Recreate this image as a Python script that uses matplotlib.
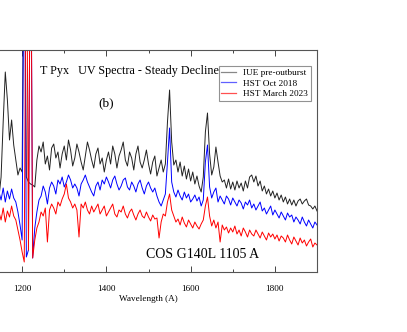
import numpy as np
import matplotlib.pyplot as plt

# wavelength grid (A), 5 A steps
wave = np.arange(1145, 1901, 5)

# flux, arbitrary units
iue = [75, 95, 150, 200, 172, 132, 152, 127, 112, 97,
       104, 100, 400, 95, 90, 88, 87, 85, 112, 126,
       120, 130, 108, 116, 102, 124, 128, 114, 120, 104,
       118, 126, 112, 132, 122, 106, 114, 128, 120, 110,
       102, 116, 130, 122, 112, 104, 118, 124, 108, 114,
       100, 112, 120, 108, 126, 118, 104, 116, 122, 130,
       112, 106, 120, 114, 102, 118, 126, 110, 104, 112,
       122, 108, 98, 110, 116, 96, 104, 112, 100, 108,
       150, 182, 130, 107, 112, 100, 110, 96, 106, 93,
       103, 91, 100, 88, 96, 86, 80, 95, 140, 159,
       118, 97, 105, 125, 110, 96, 90, 92, 84, 93,
       83, 90, 82, 91, 84, 89, 81, 91, 84, 95,
       97, 90, 96, 86, 91, 81, 86, 78, 83, 76,
       81, 74, 79, 72, 77, 70, 75, 68, 73, 67,
       72, 66, 71, 73, 68, 71, 73, 67, 66, 63,
       66, 61]

hst_2018 = [80, 72, 84, 70, 81, 73, 83, 74, 70, 60,
            47, 32, 400, 15, 22, 400, 14, 44, 60, 72,
            76, 86, 80, 68, 84, 90, 86, 78, 92, 88,
            95, 85, 90, 97, 92, 84, 88, 84, 76, 88,
            92, 97, 90, 85, 80, 76, 86, 90, 82, 92,
            88, 95, 90, 84, 92, 96, 88, 82, 86, 92,
            94, 85, 82, 90, 86, 80, 88, 92, 84, 78,
            86, 90, 84, 80, 84, 76, 70, 66, 72, 78,
            110, 144, 90, 80, 75, 82, 76, 72, 80, 74,
            78, 70, 73, 77, 71, 75, 66, 72, 110, 127,
            85, 74, 80, 84, 70, 76, 72, 68, 76, 73,
            67, 74, 70, 66, 72, 69, 63, 70, 67, 72,
            64, 68, 62, 66, 70, 61, 64, 58, 62, 66,
            57, 62, 58, 54, 60, 56, 52, 59, 55, 57,
            50, 55, 52, 48, 55, 50, 46, 52, 48, 44,
            50, 47]

hst_2023 = [60, 52, 64, 50, 61, 55, 66, 56, 52, 42,
            32, 20, 10, 400, 22, 400, 14, 32, 44, 50,
            60, 56, 64, 30, 62, 68, 64, 58, 70, 66,
            73, 78, 88, 74, 70, 64, 68, 62, 35, 68,
            64, 70, 62, 58, 66, 60, 64, 68, 58, 62,
            66, 56, 60, 64, 68, 58, 55, 62, 60, 66,
            58, 54, 60, 63, 57, 52, 58, 62, 56, 54,
            60, 55, 51, 57, 53, 54, 34, 50, 58, 56,
            70, 78, 62, 56, 50, 53, 47, 55, 49, 45,
            52, 48, 44, 50, 46, 43, 48, 52, 66, 75,
            56, 46, 52, 44, 50, 30, 47, 42, 45, 39,
            44, 40, 46, 38, 42, 36, 44, 40, 35, 42,
            38, 36, 42, 38, 34, 40, 36, 32, 39, 35,
            38, 33, 37, 31, 36, 34, 30, 37, 32, 28,
            35, 31, 27, 34, 29, 32, 26, 30, 33, 25,
            29, 27]

plt.rcParams['font.family'] = ['Liberation Serif', 'DejaVu Serif']

fig = plt.figure(figsize=(4.07, 3.32), dpi=100)
ax = fig.add_axes([-0.0491, 0.1807, 0.828, 0.6687])

ax.plot(wave, iue, color='#222222', lw=0.7, label='IUE pre-outburst')
ax.plot(wave, hst_2018, color='#0000ff', lw=0.7, label='HST Oct 2018')
ax.plot(wave, hst_2023, color='#ff0000', lw=0.7, label='HST March 2023')

ax.set_xlim(1100, 1900)
ax.set_ylim(0, 222)
ax.set_xticks([1200, 1400, 1600, 1800])
ax.set_xticks([1100, 1300, 1500, 1700], minor=True)
ax.set_yticks([])
ax.tick_params(axis='x', which='both', direction='in', top=True, labelsize=6.6, pad=9.5,
               colors='#444444', labelcolor='black')
ax.tick_params(axis='x', which='major', length=4, width=0.7)
ax.tick_params(axis='x', which='minor', length=2.5, width=0.7)
for s in ax.spines.values():
    s.set_color('#555555')
    s.set_linewidth(0.8)

ax.set_xlabel('Wavelength (A)', fontsize=6.6, labelpad=1)

ax.text(0.178, 0.905, 'T Pyx   UV Spectra - Steady Decline', transform=ax.transAxes,
        fontsize=8.7, va='center', ha='left')
ax.text(0.350, 0.761, '(b)', transform=ax.transAxes, fontsize=9.5, va='center', ha='left')
ax.text(0.4926, 0.077, 'COS G140L 1105 A', transform=ax.transAxes, fontsize=10, va='center', ha='left')

leg = ax.legend(loc='upper right', bbox_to_anchor=(0.982, 0.928), fontsize=6.7, frameon=True,
                fancybox=False, edgecolor='#777777', borderaxespad=0, borderpad=0.3,
                labelspacing=0.2, handlelength=1.6, handletextpad=0.75)
leg.get_frame().set_linewidth(0.8)
handle_colors = ['#888888', '#6060ff', '#ff5050']
for h, c in zip(leg.legend_handles, handle_colors):
    h.set_color(c)
    h.set_linewidth(0.9)

fig.savefig('out.png', dpi=100)
